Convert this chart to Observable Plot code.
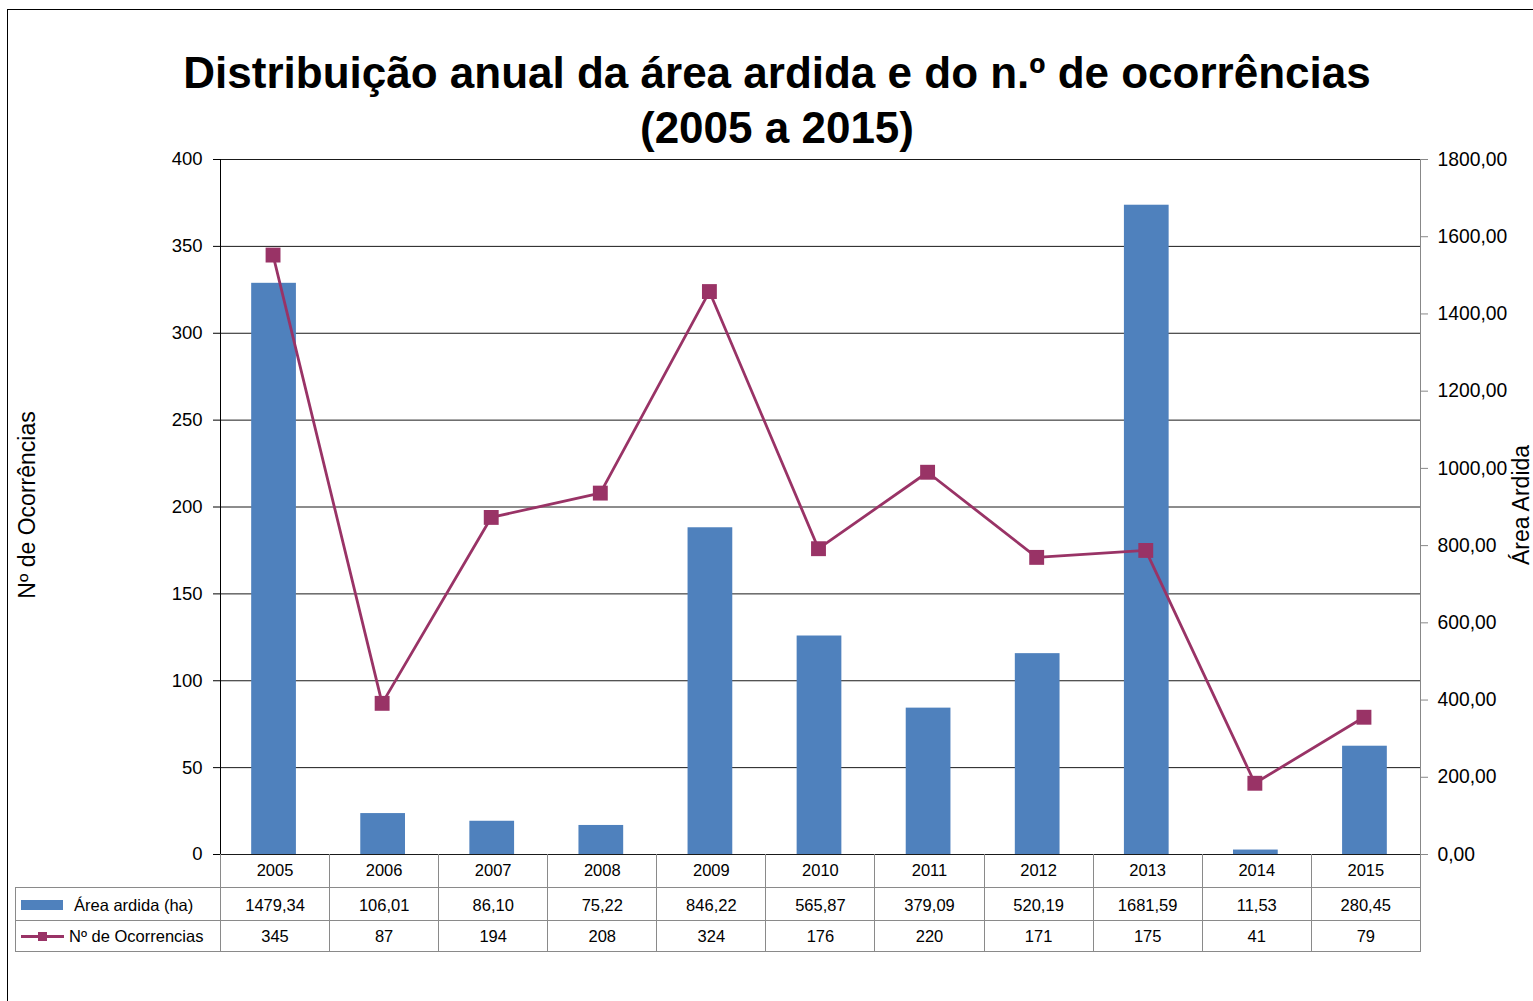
<!DOCTYPE html>
<html><head><meta charset="utf-8">
<script src="https://cdn.jsdelivr.net/npm/d3@7"></script>
<script src="https://cdn.jsdelivr.net/npm/@observablehq/plot@0.6"></script>
<style>
html,body{margin:0;padding:0;overflow:hidden;background:#fff;}
body{font-family:"Liberation Sans",Arial,Helvetica,sans-serif;color:#000;}
#wrap{position:relative;width:1533px;height:1001px;overflow:hidden;}
#border{position:absolute;left:7px;top:9px;width:3000px;height:3000px;border-left:1.3px solid #000;border-top:1.3px solid #000;}
#title{position:absolute;left:0;top:45px;width:1554px;text-align:center;font-weight:bold;font-size:44px;line-height:55px;white-space:nowrap;}
#chart{position:absolute;left:0;top:0;}
.ylab{position:absolute;font-size:23px;line-height:23px;white-space:nowrap;transform:translate(-50%,-50%) rotate(-90deg);}
#tbl{position:absolute;left:15px;top:854px;border-collapse:collapse;table-layout:fixed;width:1405px;font-size:16.5px;}
#tbl td{padding:0;text-align:center;vertical-align:middle;white-space:nowrap;overflow:visible;}
#tbl tr.r2 td{padding-top:3px;}
#tbl tr.r3 td{padding-top:2px;}
</style></head><body>
<div id="wrap">
  <div id="border"></div>
  <div id="title">Distribuição anual da área ardida e do n.º de ocorrências<br>(2005 a 2015)</div>
  <div id="chart"></div>
  <div class="ylab" id="ylabL" style="left:27px;top:505px;">Nº de Ocorrências</div>
  <div class="ylab" id="ylabR" style="left:1521px;top:505px;">Área Ardida</div>
  <table id="tbl"></table>
</div>
<script>
const years = [2005, 2006, 2007, 2008, 2009, 2010, 2011, 2012, 2013, 2014, 2015];
const areaArdida = [1479.34, 106.01, 86.10, 75.22, 846.22, 565.87, 379.09, 520.19, 1681.59, 11.53, 280.45];
const ocorrencias = [345, 87, 194, 208, 324, 176, 220, 171, 175, 41, 79];
const leftTicks = [0, 50, 100, 150, 200, 250, 300, 350, 400];
const rightTicks = [0, 200, 400, 600, 800, 1000, 1200, 1400, 1600, 1800];
const seriesNames = ["Área ardida (ha)", "Nº de Ocorrencias"];

const barColor = "#4F81BD";
const lineColor = "#993366";
const K = 400 / 1800; // right axis (area) -> left axis (count) units
const fmt = v => (Math.round(v * 100) / 100).toFixed(2).replace(".", ",");

const data = years.map((y, i) => ({year: String(y), area: areaArdida[i], count: ocorrencias[i]}));

const chart = Plot.plot({
  width: 1533, height: 1001,
  marginTop: 159, marginBottom: 147, marginLeft: 220, marginRight: 113,
  style: {fontFamily: '"Liberation Sans", Arial, sans-serif', fontSize: "18.5px", color: "#000", background: "transparent", overflow: "visible"},
  x: {domain: years.map(String), paddingInner: 0.59, paddingOuter: 0.295, round: false, axis: null},
  y: {domain: [0, 400], axis: null},
  marks: [
    Plot.gridY(leftTicks, {stroke: "#1a1a1a", strokeOpacity: 1}),
    Plot.frame({anchor: "right", stroke: "#888"}),
    Plot.frame({anchor: "left", stroke: "#000"}),
    Plot.barY(data, {x: "year", y: d => d.area * K, fill: barColor, dx: -1}),
    Plot.line(data, {x: "year", y: "count", stroke: lineColor, strokeWidth: 2.8, dx: -2}),
    Plot.dot(data, {x: "year", y: "count", symbol: "square", r: 8.4, fill: lineColor, dx: -2}),
    Plot.axisY(leftTicks, {anchor: "left", tickSize: 7, tickPadding: 11, label: null, fontSize: 18.5}),
    Plot.axisY(rightTicks.map(v => v * K), {anchor: "right", tickSize: 7, tickPadding: 10, stroke: "#888", label: null, fontSize: 19.3, tickFormat: v => fmt(v / K)})
  ]
});
document.getElementById("chart").appendChild(chart);

// data table below the chart
const tbl = document.getElementById("tbl");
const colW = 1200 / years.length;
let html = '<colgroup><col style="width:205px">' + years.map(() => `<col style="width:${colW}px">`).join("") + '</colgroup>';
const g = "1px solid #8a8a8a";
html += `<tr style="height:33px"><td style="border-bottom:${g}"></td>` +
  years.map(y => `<td style="border-left:${g};border-right:${g};border-bottom:${g}">${y}</td>`).join("") + "</tr>";
html += `<tr class="r2" style="height:33px"><td style="border:${g};text-align:left"><span style="display:inline-block;width:42px;height:10px;background:${barColor};margin-left:5px;margin-right:11px;vertical-align:middle;position:relative;top:-1px"></span>${seriesNames[0]}</td>` +
  areaArdida.map(v => `<td style="border:${g}">${fmt(v)}</td>`).join("") + "</tr>";
html += `<tr class="r3" style="height:31px"><td style="border:${g};text-align:left"><span style="display:inline-block;position:relative;width:43px;height:3px;background:${lineColor};margin-left:5px;margin-right:5px;vertical-align:middle;top:-1px"><span style="position:absolute;left:17px;top:-3px;width:9px;height:9px;background:${lineColor}"></span></span>${seriesNames[1]}</td>` +
  ocorrencias.map(v => `<td style="border:${g}">${v}</td>`).join("") + "</tr>";
tbl.innerHTML = html;
</script>
</body></html>
